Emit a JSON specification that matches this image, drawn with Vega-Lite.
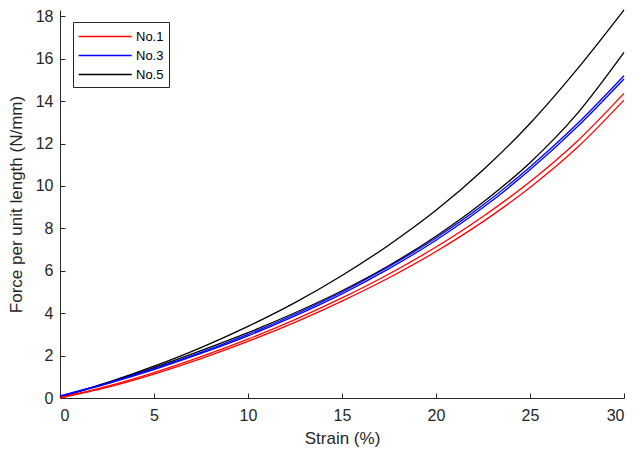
{
  "$schema": "https://vega.github.io/schema/vega-lite/v6.json",
  "width": 564,
  "height": 388,
  "autosize": {"type": "none"},
  "padding": {"left": 60, "top": 10, "right": 19, "bottom": 57},
  "background": "white",
  "config": {
    "view": {"stroke": null},
    "font": "Liberation Sans",
    "axis": {
      "grid": false,
      "domainColor": "#262626",
      "tickColor": "#262626",
      "labelColor": "#262626",
      "titleColor": "#262626",
      "labelFont": "Liberation Sans",
      "titleFont": "Liberation Sans",
      "labelFontSize": 16,
      "titleFontSize": 17,
      "titleFontWeight": "normal",
      "domainWidth": 1,
      "tickWidth": 1
    },
    "legend": {
      "labelFont": "Liberation Sans",
      "labelFontSize": 13,
      "labelColor": "#000000"
    }
  },
  "data": {
    "values": [
      {"sample": "No.5", "curve": "5a", "strain": 0, "force": 0.05},
      {"sample": "No.5", "curve": "5a", "strain": 2.5, "force": 0.72},
      {"sample": "No.5", "curve": "5a", "strain": 5, "force": 1.5},
      {"sample": "No.5", "curve": "5a", "strain": 7.5, "force": 2.38},
      {"sample": "No.5", "curve": "5a", "strain": 10, "force": 3.38},
      {"sample": "No.5", "curve": "5a", "strain": 12.5, "force": 4.5},
      {"sample": "No.5", "curve": "5a", "strain": 15, "force": 5.78},
      {"sample": "No.5", "curve": "5a", "strain": 17.5, "force": 7.22},
      {"sample": "No.5", "curve": "5a", "strain": 20, "force": 8.85},
      {"sample": "No.5", "curve": "5a", "strain": 22.5, "force": 10.75},
      {"sample": "No.5", "curve": "5a", "strain": 25, "force": 12.95},
      {"sample": "No.5", "curve": "5a", "strain": 27.5, "force": 15.5},
      {"sample": "No.5", "curve": "5a", "strain": 30, "force": 18.3},
      {"sample": "No.5", "curve": "5b", "strain": 0, "force": 0.05},
      {"sample": "No.5", "curve": "5b", "strain": 2.5, "force": 0.7},
      {"sample": "No.5", "curve": "5b", "strain": 5, "force": 1.43},
      {"sample": "No.5", "curve": "5b", "strain": 7.5, "force": 2.23},
      {"sample": "No.5", "curve": "5b", "strain": 10, "force": 3.08},
      {"sample": "No.5", "curve": "5b", "strain": 12.5, "force": 4.02},
      {"sample": "No.5", "curve": "5b", "strain": 15, "force": 5.06},
      {"sample": "No.5", "curve": "5b", "strain": 17.5, "force": 6.25},
      {"sample": "No.5", "curve": "5b", "strain": 20, "force": 7.63},
      {"sample": "No.5", "curve": "5b", "strain": 22.5, "force": 9.23},
      {"sample": "No.5", "curve": "5b", "strain": 25, "force": 11.1},
      {"sample": "No.5", "curve": "5b", "strain": 27.5, "force": 13.4},
      {"sample": "No.5", "curve": "5b", "strain": 30, "force": 16.3},
      {"sample": "No.3", "curve": "3a", "strain": 0, "force": 0.1},
      {"sample": "No.3", "curve": "3a", "strain": 2.5, "force": 0.7},
      {"sample": "No.3", "curve": "3a", "strain": 5, "force": 1.38},
      {"sample": "No.3", "curve": "3a", "strain": 7.5, "force": 2.15},
      {"sample": "No.3", "curve": "3a", "strain": 10, "force": 3.0},
      {"sample": "No.3", "curve": "3a", "strain": 12.5, "force": 3.95},
      {"sample": "No.3", "curve": "3a", "strain": 15, "force": 5.0},
      {"sample": "No.3", "curve": "3a", "strain": 17.5, "force": 6.2},
      {"sample": "No.3", "curve": "3a", "strain": 20, "force": 7.55},
      {"sample": "No.3", "curve": "3a", "strain": 22.5, "force": 9.1},
      {"sample": "No.3", "curve": "3a", "strain": 25, "force": 10.9},
      {"sample": "No.3", "curve": "3a", "strain": 27.5, "force": 12.92},
      {"sample": "No.3", "curve": "3a", "strain": 30, "force": 15.2},
      {"sample": "No.3", "curve": "3b", "strain": 0, "force": 0.08},
      {"sample": "No.3", "curve": "3b", "strain": 2.5, "force": 0.67},
      {"sample": "No.3", "curve": "3b", "strain": 5, "force": 1.34},
      {"sample": "No.3", "curve": "3b", "strain": 7.5, "force": 2.1},
      {"sample": "No.3", "curve": "3b", "strain": 10, "force": 2.93},
      {"sample": "No.3", "curve": "3b", "strain": 12.5, "force": 3.87},
      {"sample": "No.3", "curve": "3b", "strain": 15, "force": 4.91},
      {"sample": "No.3", "curve": "3b", "strain": 17.5, "force": 6.1},
      {"sample": "No.3", "curve": "3b", "strain": 20, "force": 7.44},
      {"sample": "No.3", "curve": "3b", "strain": 22.5, "force": 8.98},
      {"sample": "No.3", "curve": "3b", "strain": 25, "force": 10.76},
      {"sample": "No.3", "curve": "3b", "strain": 27.5, "force": 12.78},
      {"sample": "No.3", "curve": "3b", "strain": 30, "force": 15.05},
      {"sample": "No.1", "curve": "1a", "strain": 0, "force": 0.02},
      {"sample": "No.1", "curve": "1a", "strain": 2.5, "force": 0.55},
      {"sample": "No.1", "curve": "1a", "strain": 5, "force": 1.2},
      {"sample": "No.1", "curve": "1a", "strain": 7.5, "force": 1.95},
      {"sample": "No.1", "curve": "1a", "strain": 10, "force": 2.78},
      {"sample": "No.1", "curve": "1a", "strain": 12.5, "force": 3.7},
      {"sample": "No.1", "curve": "1a", "strain": 15, "force": 4.72},
      {"sample": "No.1", "curve": "1a", "strain": 17.5, "force": 5.85},
      {"sample": "No.1", "curve": "1a", "strain": 20, "force": 7.12},
      {"sample": "No.1", "curve": "1a", "strain": 22.5, "force": 8.56},
      {"sample": "No.1", "curve": "1a", "strain": 25, "force": 10.2},
      {"sample": "No.1", "curve": "1a", "strain": 27.5, "force": 12.1},
      {"sample": "No.1", "curve": "1a", "strain": 30, "force": 14.37},
      {"sample": "No.1", "curve": "1b", "strain": 0, "force": 0.0},
      {"sample": "No.1", "curve": "1b", "strain": 2.5, "force": 0.5},
      {"sample": "No.1", "curve": "1b", "strain": 5, "force": 1.13},
      {"sample": "No.1", "curve": "1b", "strain": 7.5, "force": 1.86},
      {"sample": "No.1", "curve": "1b", "strain": 10, "force": 2.67},
      {"sample": "No.1", "curve": "1b", "strain": 12.5, "force": 3.57},
      {"sample": "No.1", "curve": "1b", "strain": 15, "force": 4.57},
      {"sample": "No.1", "curve": "1b", "strain": 17.5, "force": 5.67},
      {"sample": "No.1", "curve": "1b", "strain": 20, "force": 6.91},
      {"sample": "No.1", "curve": "1b", "strain": 22.5, "force": 8.32},
      {"sample": "No.1", "curve": "1b", "strain": 25, "force": 9.93},
      {"sample": "No.1", "curve": "1b", "strain": 27.5, "force": 11.8},
      {"sample": "No.1", "curve": "1b", "strain": 30, "force": 14.05}
    ]
  },
  "layer": [
    {
      "mark": {"type": "line", "interpolate": "monotone", "strokeWidth": 1.3},
      "encoding": {
        "x": {
          "field": "strain",
          "type": "quantitative",
          "scale": {"domain": [0, 30], "nice": false},
          "axis": {"title": "Strain (%)", "values": [0, 5, 10, 15, 20, 25, 30], "ticks": false, "labelPadding": 9, "titlePadding": 7}
        },
        "y": {
          "field": "force",
          "type": "quantitative",
          "scale": {"domain": [0, 18.3], "nice": false, "zero": true},
          "axis": {"title": "Force per unit length (N/mm)", "values": [0, 2, 4, 6, 8, 10, 12, 14, 16, 18], "ticks": false, "labelPadding": 7, "titlePadding": 10}
        },
        "color": {
          "field": "sample",
          "type": "nominal",
          "scale": {"domain": ["No.1", "No.3", "No.5"], "range": ["#ff0000", "#0000ff", "#000000"]},
          "legend": {
            "title": null,
            "orient": "none",
            "legendX": 13,
            "legendY": 12,
            "symbolType": "M-1,0H5",
            "symbolSize": 313,
            "symbolStrokeWidth": 1.3,
            "strokeColor": "#262626",
            "fillColor": "white",
            "padding": 5,
            "rowPadding": 2,
            "labelOffset": 39,
            "cornerRadius": 0
          }
        },
        "detail": {"field": "curve", "type": "nominal"}
      }
    },
    {
      "mark": {"type": "line", "opacity": 0},
      "encoding": {
        "x": {
          "field": "strain",
          "type": "quantitative",
          "axis": {"orient": "top", "offset": -388, "values": [0, 5, 10, 15, 20, 25, 30], "labels": false, "title": null, "domain": false, "tickSize": 5}
        },
        "y": {
          "field": "force",
          "type": "quantitative",
          "axis": {"orient": "right", "offset": -564, "values": [0, 2, 4, 6, 8, 10, 12, 14, 16, 18], "labels": false, "title": null, "domain": false, "tickSize": 5}
        },
        "detail": {"field": "curve", "type": "nominal"}
      }
    }
  ],
  "resolve": {"axis": {"x": "independent", "y": "independent"}}
}
